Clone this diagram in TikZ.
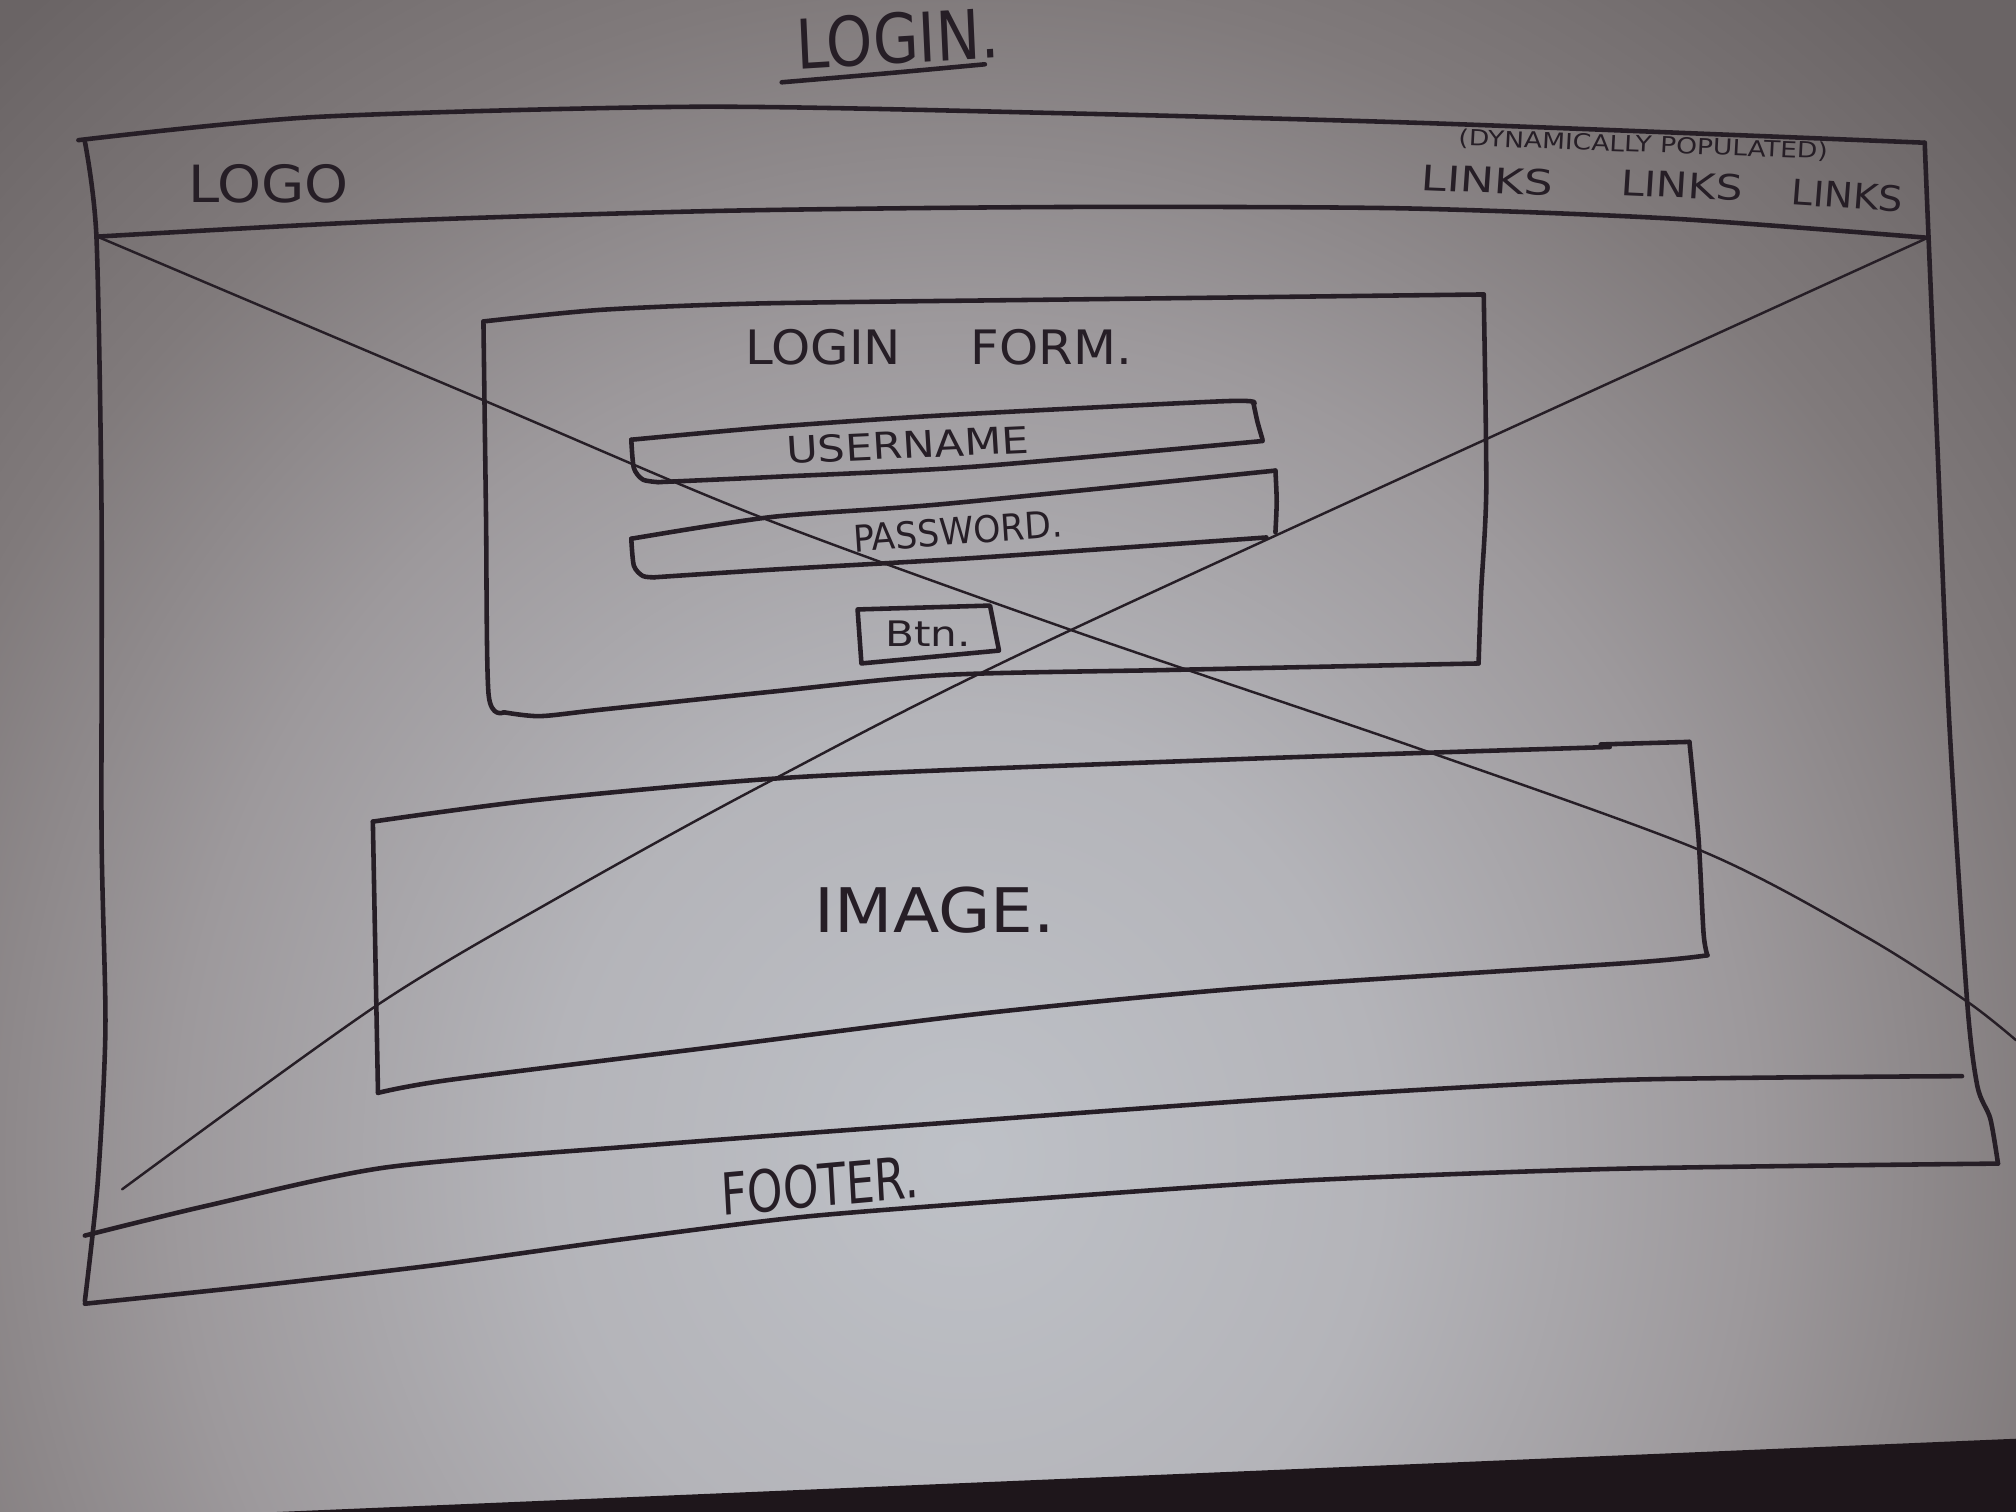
\documentclass[tikz,border=0pt]{standalone}
\usepackage{fontspec}
\newfontfamily\handfont{DejaVu Sans}
\definecolor{ink}{RGB}{38,30,38}
\definecolor{paperA}{RGB}{190,193,199}
\definecolor{paperB}{RGB}{180,180,185}
\definecolor{paperC}{RGB}{157,153,156}
\definecolor{paperD}{RGB}{128,122,123}
\definecolor{paperE}{RGB}{106,100,101}
\definecolor{tabletop}{RGB}{30,22,27}
\pgfdeclareradialshading{paperglow}{\pgfpoint{0bp}{0bp}}{%
  color(0bp)=(paperA); color(9bp)=(paperB); color(17bp)=(paperC);
  color(24bp)=(paperD); color(31bp)=(paperE); color(50bp)=(paperE)}
\tikzset{
  pen/.style={draw=ink, line width=1.3pt, line cap=round, line join=round},
  fine pen/.style={draw=ink, line width=0.7pt, line cap=round},
  hand/.style={text=ink, inner sep=0pt, font=\handfont\fontsize{#1}{#1}\selectfont},
  sk/.style={smooth, tension=0.45},
}
\begin{document}
\begin{tikzpicture}[x=0.012857cm, y=-0.012857cm]
\useasboundingbox (0,0) rectangle (1568,1176);

% paper sheet with its soft lighting, and the table showing at the bottom
\begin{scope}
  \clip (0,0) rectangle (1568,1176);
  \shade[shading=paperglow] (-150,-50) rectangle (1650,1850);
  \fill[tabletop] (215,1176) -- (1568,1119) -- (1568,1176) -- cycle;
\end{scope}

% page title
\node[hand=19.5, xscale=0.86, rotate=3] (title) at (698,30) {LOGIN.};
\draw[pen] plot[sk] coordinates {(608,64) (690,57) (766,50)};

% outer page frame
\draw[pen] plot[sk] coordinates {(61,109) (245,91) (543,83) (824,88) (1117,96) (1497,111)};
\draw[pen] plot[sk] coordinates {(66,110) (75,184) (79,400) (79,650) (82,800) (76,920) (66,1012)};
\draw[pen] plot[sk] coordinates {(1497,111) (1500,185) (1507,350) (1516,560) (1530,779) (1538,845) (1548,870) (1554,905)};
% header strip
\draw[pen] plot[sk] coordinates {(76,184) (300,172) (560,164) (824,161) (1089,162) (1300,170) (1500,185)};
% footer strip
\draw[pen] plot[sk] coordinates {(66,961) (160,938) (300,908) (500,891) (726,874) (1017,853) (1259,840) (1526,837)};
\draw[pen] plot[sk] coordinates {(66,1014) (200,1000) (338,984) (483,964) (629,946) (823,931) (1017,918) (1259,909) (1554,905)};

% header contents
\node[hand=14.6, xscale=1.09] (logo) at (209,143) {LOGO};
\node[hand=6.3, xscale=1.2, rotate=-2.5] (dyn) at (1278,113) {(DYNAMICALLY POPULATED)};
\node[hand=10, xscale=1.3, rotate=-3] (linkA) at (1157,140) {LINKS};
\node[hand=10, xscale=1.2, rotate=-3] (linkB) at (1308,144) {LINKS};
\node[hand=10, xscale=1.1, rotate=-4] (linkC) at (1437,152) {LINKS};

% login form panel
\draw[pen] plot[sk] coordinates {(376,250) (467,241) (591,236) (824,233) (1154,229)};
\draw[pen] plot[sk] coordinates {(1154,229) (1156,380) (1152,460) (1150,516)};
\draw[pen] plot[sk] coordinates {(1150,516) (913,521) (734,525) (600,538) (467,552) (420,557) (392,554)};
\draw[pen] plot[sk] coordinates {(376,250) (378,400) (380,540) (392,554)};
\node[hand=13.5, xscale=1.05] (formtitle) at (730,270) {LOGIN\hspace{1.4em}FORM.};

% username field
\draw[pen] plot[sk] coordinates {(491,342) (601,332) (734,323) (953,312) (975,314)};
\draw[pen] plot[sk] coordinates {(975,314) (978,328) (982,342)};
\draw[pen] plot[sk] coordinates {(982,343) (757,363) (600,371) (512,375)};
\draw[pen] plot[sk] coordinates {(491,342) (493,364) (500,373) (512,375)};
\node[hand=10.5, xscale=1.17, rotate=3] (user) at (706,346) {USERNAME};

% password field
\draw[pen] plot[sk] coordinates {(491,419) (601,402) (734,392) (992,366)};
\draw[pen] plot[sk] coordinates {(992,366) (993,390) (992,414)};
\draw[pen] plot[sk] coordinates {(985,418) (757,434) (601,443) (509,449)};
\draw[pen] plot[sk] coordinates {(491,419) (493,440) (500,448) (509,449)};
\node[hand=10.5, xscale=0.94, rotate=4] (pass) at (745,413) {PASSWORD.};

% button
\draw[pen] (667,474) -- (770,471) -- (777,506) -- (670,516) -- cycle;
\node[hand=10, xscale=1.2] (btn) at (722,493) {Btn.};

% image block
\draw[pen] plot[sk] coordinates {(290,639) (419,622) (627,604) (975,590) (1252,581)};
\draw[pen] (1245,579) -- (1314,577);
\draw[pen] plot[sk] coordinates {(1314,577) (1321,651) (1325,726) (1328,743)};
\draw[pen] plot[sk] coordinates {(1328,743) (1266,749) (975,768) (766,788) (558,814) (349,840) (294,850)};
\draw[pen] (290,639) -- (294,850);
\node[hand=17.5, xscale=1.1] (image) at (727,708) {IMAGE.};

% footer label
\node[hand=16.5, xscale=0.78, rotate=4] (footer) at (638,922) {FOOTER.};

% placeholder cross over the content area
\draw[fine pen] plot[smooth, tension=0.5] coordinates {(78,185) (380,313) (591,402) (833,490) (1100,581) (1324,662) (1452,729) (1530,779) (1568,809)};
\draw[fine pen] plot[smooth, tension=0.5] coordinates {(1497,186) (833,490) (600,607) (436,697) (293,782) (95,925)};
\end{tikzpicture}
\end{document}
